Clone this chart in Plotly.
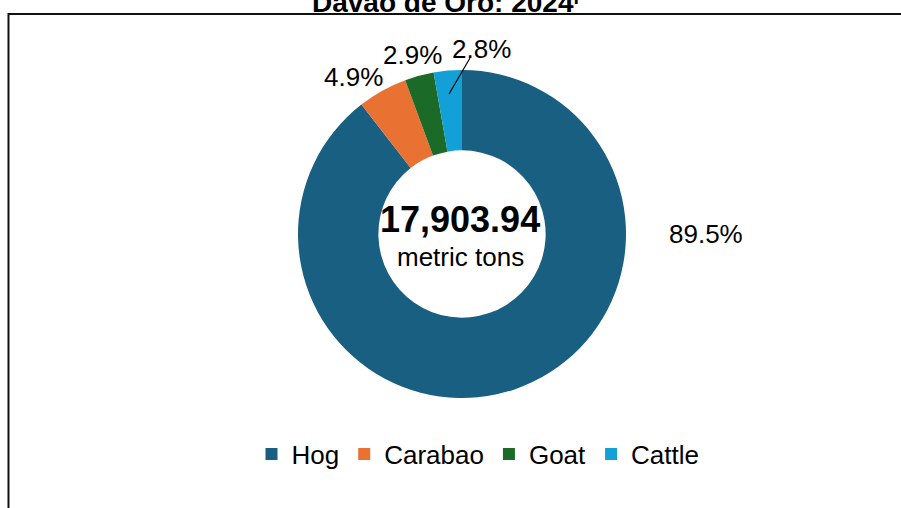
import plotly.graph_objects as go

W, H = 901, 508

# Data
categories = ["Hog", "Carabao", "Goat", "Cattle"]
volumes = [16021.5, 875.0, 511.0, 496.44]   # metric tons (estimated from shares)
colors = ["#185F82", "#E97132", "#1B6A28", "#12A0D7"]
total_label = "17,903.94"
unit_label = "metric tons"
title_text = "Davao de Oro: 2024<sup>p</sup>"

# label positions (pixels) for the outside percentage labels
label_pos = [(706, 234), (353, 77), (412, 55), (482, 49)]


def px(x):
    return x / W


def py(y):
    return 1 - y / H


total = sum(volumes)
shares = [v / total * 100 for v in volumes]

fig = go.Figure()
fig.add_trace(go.Pie(
    labels=categories,
    values=volumes,
    marker=dict(colors=colors, line=dict(width=0)),
    hole=0.51,
    sort=False,
    direction="clockwise",
    rotation=0,
    textinfo="none",
    hoverinfo="label+percent",
    domain=dict(x=[px(462 - 164), px(462 + 164)], y=[py(398), py(70)]),
))

annotations = []
for (x, y), s in zip(label_pos, shares):
    annotations.append(dict(
        x=px(x), y=py(y), xref="paper", yref="paper",
        text=f"{s:.1f}%", showarrow=False,
        xanchor="center", yanchor="middle",
        font=dict(family="Liberation Sans, Arial", size=26, color="#000000"),
    ))

annotations.append(dict(
    x=px(460), y=py(219), xref="paper", yref="paper",
    text=f"<b>{total_label}</b>", showarrow=False,
    xanchor="center", yanchor="middle",
    font=dict(family="Liberation Sans, Arial", size=36, color="#000000"),
))
annotations.append(dict(
    x=px(460), y=py(257), xref="paper", yref="paper",
    text=unit_label, showarrow=False,
    xanchor="center", yanchor="middle",
    font=dict(family="Liberation Sans, Arial", size=26, color="#000000"),
))
annotations.append(dict(
    x=px(448), y=1, xref="paper", yref="paper",
    text=f"<b>{title_text}</b>", showarrow=False,
    xanchor="center", yanchor="middle",
    font=dict(family="Liberation Sans, Arial", size=28, color="#000000"),
))

shapes = [
    dict(type="rect", xref="paper", yref="paper",
         x0=px(8.5), x1=px(W + 20), y0=py(H + 20), y1=py(14),
         line=dict(color="#111111", width=2), fillcolor="rgba(0,0,0,0)"),
    dict(type="line", xref="paper", yref="paper",
         x0=px(449), y0=py(94), x1=px(470), y1=py(58),
         line=dict(color="#000000", width=1.2)),
]

fig.update_layout(
    width=W, height=H,
    margin=dict(l=0, r=0, t=0, b=0),
    paper_bgcolor="white",
    plot_bgcolor="white",
    showlegend=True,
    legend=dict(
        orientation="h", x=px(478), y=py(454),
        xanchor="center", yanchor="middle",
        font=dict(family="Liberation Sans, Arial", size=26, color="#000000"),
        itemwidth=30,
    ),
    annotations=annotations,
    shapes=shapes,
)

fig.write_html("out.html", config={"displayModeBar": False},
               post_script="document.body.style.margin='0px';")
